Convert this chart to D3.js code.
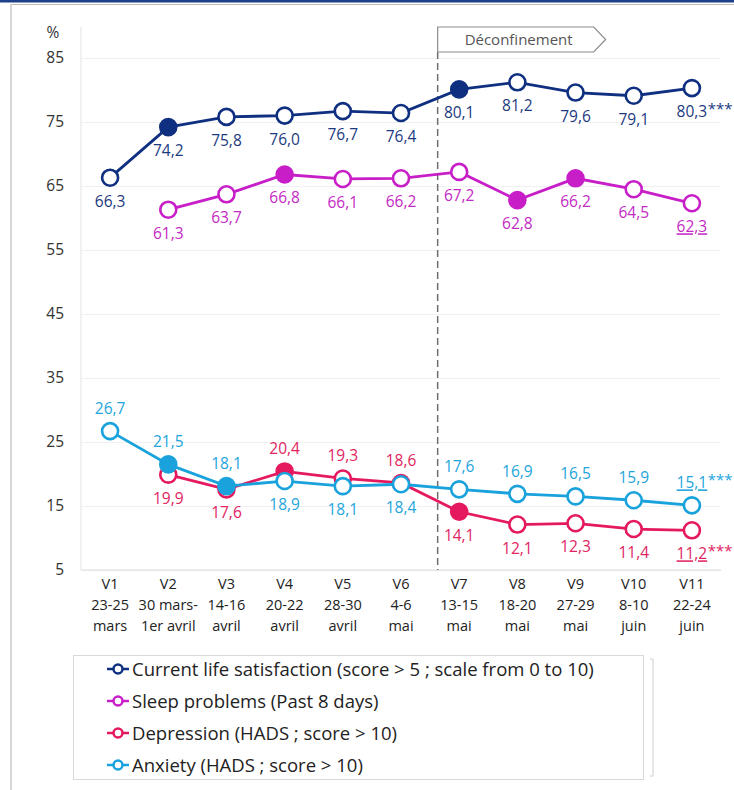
<!DOCTYPE html>
<html>
<head>
<meta charset="utf-8">
<script src="https://cdn.jsdelivr.net/npm/d3@7"></script>
<style>
  body { margin: 0; background: #fff; }
  svg { display: block; font-family: "Open Sans", sans-serif; }
</style>
</head>
<body>
<div id="chart"></div>
<script>
// Data
const categories = ["V1", "V2", "V3", "V4", "V5", "V6", "V7", "V8", "V9", "V10", "V11"];
const datesLine1 = ["23-25", "30 mars-", "14-16", "20-22", "28-30", "4-6", "13-15", "18-20", "27-29", "8-10", "22-24"];
const datesLine2 = ["mars", "1er avril", "avril", "avril", "avril", "mai", "mai", "mai", "mai", "juin", "juin"];
const yTicks = [5, 15, 25, 35, 45, 55, 65, 75, 85];

const lifeSatisfaction = [66.3, 74.2, 75.8, 76.0, 76.7, 76.4, 80.1, 81.2, 79.6, 79.1, 80.3];
const sleepProblems = [null, 61.3, 63.7, 66.8, 66.1, 66.2, 67.2, 62.8, 66.2, 64.5, 62.3];
const depression = [null, 19.9, 17.6, 20.4, 19.3, 18.6, 14.1, 12.1, 12.3, 11.4, 11.2];
const anxiety = [26.7, 21.5, 18.1, 18.9, 18.1, 18.4, 17.6, 16.9, 16.5, 15.9, 15.1];

// significant change vs previous wave (filled markers)
const lifeSignif = [0, 1, 0, 0, 0, 0, 1, 0, 0, 0, 0];
const sleepSignif = [0, 0, 0, 1, 0, 0, 0, 1, 1, 0, 0];
const depressionSignif = [0, 0, 0, 1, 0, 0, 1, 0, 0, 0, 0];
const anxietySignif = [0, 1, 1, 0, 0, 0, 0, 0, 0, 0, 0];

const legendLabels = [
    "Current life satisfaction (score > 5 ; scale from 0 to 10)",
    "Sleep problems (Past 8 days)",
    "Depression (HADS ; score > 10)",
    "Anxiety (HADS ; score > 10)"
];

// styling per series (label side: 1 = below, -1 = above)
const series = [
    { values: lifeSatisfaction, signif: lifeSignif, color: "#0f2f80", labelColor: "#1c3a80",
      side: [1, 1, 1, 1, 1, 1, 1, 1, 1, 1, 1], last: "***" },
    { values: sleepProblems, signif: sleepSignif, color: "#c81ec8", labelColor: "#c42ac4",
      side: [1, 1, 1, 1, 1, 1, 1, 1, 1, 1, 1], last: "", underline: true },
    { values: depression, signif: depressionSignif, color: "#e5195f", labelColor: "#e0245f",
      side: [1, 1, 1, -1, -1, -1, 1, 1, 1, 1, 1], last: "***", underline: true },
    { values: anxiety, signif: anxietySignif, color: "#1aa2dc", labelColor: "#1ea5dc",
      side: [-1, -1, -1, 1, 1, 1, -1, -1, -1, -1, -1], last: "***", underline: true }
];

const W = 734, H = 790;
const plot = { left: 81, right: 721, top: 58, bottom: 570 };

const svg = d3.select("#chart").append("svg")
    .attr("width", W)
    .attr("height", H);

// frame
svg.append("rect").attr("x", 0).attr("y", 0).attr("width", W).attr("height", 2.5).attr("fill", "#1d3f8c");
svg.append("path").attr("d", `M11,${H} V4.5 H${W}`).attr("fill", "none").attr("stroke", "#bdbdbd").attr("stroke-width", 1.2);

const x = d3.scalePoint()
    .domain(categories)
    .range([plot.left, plot.right])
    .padding(0.5);

const y = d3.scaleLinear()
    .domain([5, 85])
    .range([plot.bottom, plot.top]);

// gridlines
svg.append("g")
    .attr("transform", `translate(${plot.left},0)`)
    .call(d3.axisLeft(y).tickValues(yTicks).tickSize(-(plot.right - plot.left)).tickFormat(""))
    .call(g => g.select(".domain").remove())
    .selectAll("line")
    .attr("stroke", "#f0f0f0");

// y axis labels
svg.append("g")
    .attr("transform", `translate(${plot.left},0)`)
    .call(d3.axisLeft(y).tickValues(yTicks).tickSize(0).tickPadding(17))
    .call(g => g.select(".domain").remove())
    .selectAll("text")
    .attr("font-size", 15.5)
    .attr("font-family", "Open Sans")
    .attr("fill", "#333");

svg.append("line")
    .attr("x1", plot.left).attr("x2", plot.left)
    .attr("y1", 27).attr("y2", plot.bottom)
    .attr("stroke", "#e3e3e3");
svg.append("line")
    .attr("x1", plot.left).attr("x2", plot.right)
    .attr("y1", plot.bottom).attr("y2", plot.bottom)
    .attr("stroke", "#dcdcdc");

svg.append("text")
    .attr("x", 53).attr("y", 38)
    .attr("text-anchor", "middle")
    .attr("font-size", 15.5)
    .attr("fill", "#333")
    .text("%");

// x axis labels (3 lines)
const xLab = svg.append("g").selectAll("text")
    .data(categories)
    .enter()
    .append("text")
    .attr("x", d => x(d))
    .attr("text-anchor", "middle")
    .attr("font-size", 14.5)
    .attr("fill", "#222");
xLab.append("tspan").attr("x", d => x(d)).attr("y", 589).text(d => d);
xLab.append("tspan").attr("x", d => x(d)).attr("y", 610).text((d, i) => datesLine1[i]);
xLab.append("tspan").attr("x", d => x(d)).attr("y", 631).text((d, i) => datesLine2[i]);

// Déconfinement marker
const step = x.step();
const xd = x("V7") - step * 0.37;
svg.append("line")
    .attr("x1", xd).attr("x2", xd)
    .attr("y1", 52).attr("y2", plot.bottom)
    .attr("stroke", "#6e6e6e")
    .attr("stroke-width", 1.5)
    .attr("stroke-dasharray", "7,4");
svg.append("path")
    .attr("d", `M${xd},52 V27 H${xd + 156} L${xd + 168},39.5 L${xd + 156},52 Z`)
    .attr("fill", "#fff")
    .attr("stroke", "#8c8c8c")
    .attr("stroke-width", 1.2);
svg.append("text")
    .attr("x", xd + 81).attr("y", 45)
    .attr("text-anchor", "middle")
    .attr("font-size", 15)
    .attr("fill", "#555")
    .text("Déconfinement");

// series lines, markers, labels
const fmt = v => d3.format(".1f")(v).replace(".", ",");

series.forEach(s => {
    const pts = categories.map((c, i) => ({ c, i, v: s.values[i] })).filter(d => d.v != null);
    const line = d3.line().x(d => x(d.c)).y(d => y(d.v));

    svg.append("path")
        .datum(pts)
        .attr("d", line)
        .attr("fill", "none")
        .attr("stroke", s.color)
        .attr("stroke-width", 2.8);

    svg.append("g").selectAll("circle")
        .data(pts)
        .enter()
        .append("circle")
        .attr("cx", d => x(d.c))
        .attr("cy", d => y(d.v))
        .attr("r", 8)
        .attr("fill", d => s.signif[d.i] ? s.color : "#fff")
        .attr("stroke", s.color)
        .attr("stroke-width", 2.6);
});

series.forEach(s => {
    const pts = categories.map((c, i) => ({ c, i, v: s.values[i] })).filter(d => d.v != null);
    pts.forEach(d => {
        const isLast = d.i === categories.length - 1;
        const ty = y(d.v) + (s.side[d.i] > 0 ? 29 : -17);
        const t = svg.append("text")
            .attr("x", x(d.c)).attr("y", ty)
            .attr("text-anchor", "middle")
            .attr("font-size", 15.5)
            .attr("fill", s.labelColor)
            .text(fmt(d.v));
        if (isLast) {
            if (s.underline) t.style("text-decoration", "underline");
            if (s.last) {
                const w = t.node().getComputedTextLength();
                svg.append("text")
                    .attr("x", x(d.c) + w / 2 + 0.5).attr("y", ty - 3)
                    .attr("font-size", 15)
                    .attr("fill", s.labelColor)
                    .text(s.last);
            }
        }
    });
});

// legend
svg.append("rect")
    .attr("x", 73.5).attr("y", 655.5)
    .attr("width", 570).attr("height", 124)
    .attr("fill", "#fff")
    .attr("stroke", "#d9d9d9");
svg.append("path")
    .attr("d", "M650,659 H653 V776 H650")
    .attr("fill", "none")
    .attr("stroke", "#d0d0d0");

const leg = svg.append("g").selectAll("g")
    .data(series)
    .enter()
    .append("g")
    .attr("transform", (d, i) => `translate(0,${669 + i * 32})`);
leg.append("line")
    .attr("x1", 107).attr("x2", 129)
    .attr("stroke", d => d.color)
    .attr("stroke-width", 2.5);
leg.append("circle")
    .attr("cx", 118).attr("r", 4.5)
    .attr("fill", "#fff")
    .attr("stroke", d => d.color)
    .attr("stroke-width", 2.5);
leg.append("text")
    .attr("x", 132).attr("y", 6.5)
    .attr("font-size", 18.5)
    .attr("fill", "#222")
    .text((d, i) => legendLabels[i]);
</script>
</body>
</html>
